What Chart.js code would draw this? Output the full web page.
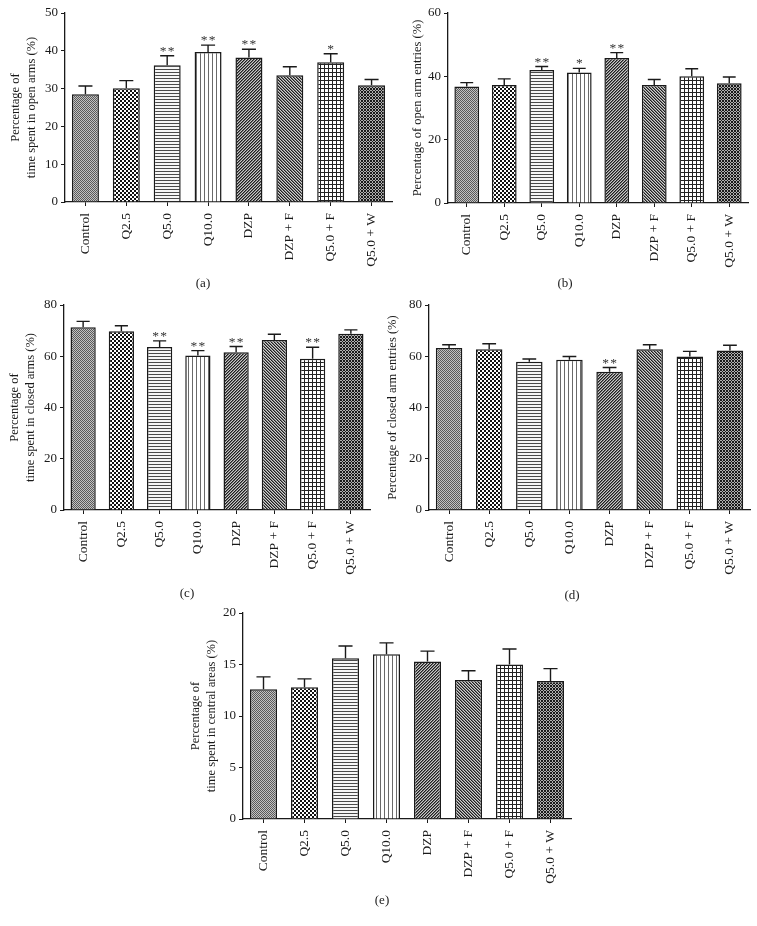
<!DOCTYPE html>
<html>
<head>
<meta charset="utf-8">
<script src="https://cdn.jsdelivr.net/npm/chart.js@4.4.0/dist/chart.umd.min.js"></script>
<style>
  html, body { margin: 0; padding: 0; background: #fff; }
  body { position: relative; width: 757px; height: 926px; overflow: hidden; }
  canvas { position: absolute; }
  .tag { position: absolute; font: 13px 'Liberation Serif', serif; color: #222; transform: translate(-50%, -50%); }
</style>
</head>
<body>
<canvas id="chart-a" width="400" height="280" style="left:0;top:0"></canvas>
<canvas id="chart-b" width="357" height="280" style="left:400px;top:0"></canvas>
<canvas id="chart-c" width="380" height="290" style="left:0;top:290px"></canvas>
<canvas id="chart-d" width="377" height="290" style="left:380px;top:290px"></canvas>
<canvas id="chart-e" width="420" height="300" style="left:180px;top:600px"></canvas>
<div class="tag" style="left:203px;top:283px">(a)</div>
<div class="tag" style="left:565px;top:283px">(b)</div>
<div class="tag" style="left:187px;top:593px">(c)</div>
<div class="tag" style="left:572px;top:595px">(d)</div>
<div class="tag" style="left:382px;top:900px">(e)</div>
<script>
// groups on the x axis, same for every panel
const groups = ['Control', 'Q2.5', 'Q5.0', 'Q10.0', 'DZP', 'DZP + F', 'Q5.0 + F', 'Q5.0 + W'];

// (a) time in open arms
const openTimeMean = [28.5, 30.1, 36.2, 39.7, 38.2, 33.5, 37.0, 30.9];
const openTimeSem  = [2.2, 2.0, 2.5, 1.8, 2.2, 2.3, 2.2, 1.5];
const openTimeSig  = ['', '', '**', '**', '**', '', '*', ''];

// (b) open arm entries
const openEntryMean = [36.8, 37.3, 42.0, 41.2, 45.8, 37.3, 40.0, 37.8];
const openEntrySem  = [1.2, 1.9, 1.1, 1.3, 1.7, 1.7, 2.4, 2.0];
const openEntrySig  = ['', '', '**', '*', '**', '', '', ''];

// (c) time in closed arms
const closedTimeMean = [71.3, 69.8, 63.6, 60.3, 61.6, 66.3, 59.0, 68.8];
const closedTimeSem  = [2.3, 2.1, 2.4, 1.9, 2.2, 2.3, 4.5, 1.5];
const closedTimeSig  = ['', '', '**', '**', '**', '', '**', ''];

// (d) closed arm entries
const closedEntryMean = [63.2, 62.7, 57.9, 58.6, 54.0, 62.7, 59.9, 62.2];
const closedEntrySem  = [1.3, 2.2, 1.0, 1.3, 1.6, 1.8, 2.0, 2.1];
const closedEntrySig  = ['', '', '', '', '**', '', '', ''];

// (e) time in central area
const centralMean = [12.6, 12.8, 15.6, 16.0, 15.3, 13.5, 15.0, 13.4];
const centralSem  = [1.2, 0.8, 1.2, 1.1, 1.0, 0.9, 1.5, 1.2];
const centralSig  = ['', '', '', '', '', '', '', ''];

const SERIF = "'Liberation Serif', 'Times New Roman', serif";
const INK = '#1a1a1a';

// fill pattern per group, in the same order as groups
const patternKinds = ['fine', 'checker', 'hlines', 'vlines', 'diagUp', 'diagDown', 'grid', 'weave'];

function pixelColor(kind, x, y) {
  switch (kind) {
    case 'fine': return (x + y) % 2 === 0 ? '#5a5a5a' : '#c2c2c2';
    case 'checker': return ((x >> 1) + (y >> 1)) % 2 === 0 ? '#111' : '#fff';
    case 'hlines': return y === 0 ? '#4a4a4a' : '#f6f6f6';
    case 'vlines': return x === 0 ? '#6a6a6a' : '#fff';
    case 'diagUp': return ['#1e1e1e', '#6e6e6e', '#c8c8c8'][(x + y) % 3];
    case 'diagDown': return ['#1e1e1e', '#777', '#d0d0d0'][(x - y + 3) % 3];
    case 'grid': return (x === 0 || y === 0) ? '#222' : '#fff';
    case 'weave': return ((x + y) % 3 === 0 || (x - y + 3) % 3 === 0) ? '#1a1a1a' : '#b0b0b0';
  }
  return '#888';
}

function makePattern(ctx, kind) {
  const size = { fine: 2, checker: 4, hlines: 3, vlines: 4, diagUp: 3, diagDown: 3, grid: 4, weave: 3 }[kind];
  const tile = document.createElement('canvas');
  tile.width = tile.height = size;
  const g = tile.getContext('2d');
  for (let y = 0; y < size; y++) {
    for (let x = 0; x < size; x++) {
      g.fillStyle = pixelColor(kind, x, y);
      g.fillRect(x, y, 1, 1);
    }
  }
  return ctx.createPattern(tile, 'repeat');
}

// error bars (upper SEM only) and significance stars
function errorBars(mean, sem, sig) {
  return {
    id: 'errorBars',
    afterDatasetsDraw(chart) {
      const { ctx, scales: { y } } = chart;
      const bars = chart.getDatasetMeta(0).data;
      ctx.save();
      ctx.strokeStyle = INK;
      ctx.lineWidth = 1.4;
      bars.forEach((bar, i) => {
        const top = y.getPixelForValue(mean[i] + sem[i]);
        const half = bar.width * 0.26;
        ctx.beginPath();
        ctx.moveTo(bar.x, bar.y);
        ctx.lineTo(bar.x, top);
        ctx.moveTo(bar.x - half, top);
        ctx.lineTo(bar.x + half, top);
        ctx.stroke();
        const stars = sig[i];
        if (stars) {
          ctx.fillStyle = '#333';
          ctx.font = '13.5px ' + SERIF;
          ctx.textAlign = 'center';
          ctx.textBaseline = 'alphabetic';
          const step = 8;
          const x0 = bar.x - (stars.length - 1) * step / 2;
          for (let k = 0; k < stars.length; k++) ctx.fillText('*', x0 + k * step, top - 1);
        }
      });
      ctx.restore();
    },
  };
}

const panels = [
  { id: 'chart-a', mean: openTimeMean, sem: openTimeSem, sig: openTimeSig, max: 50, step: 10,
    title: ['Percentage of', 'time spent in open arms (%)'], titlePad: 8,
    yWidth: 65, xHeight: 78, pad: { top: 13, right: 8 } },
  { id: 'chart-b', mean: openEntryMean, sem: openEntrySem, sig: openEntrySig, max: 60, step: 20,
    title: 'Percentage of open arm entries (%)', titlePad: 10,
    yWidth: 48, xHeight: 77, pad: { top: 13, right: 9 } },
  { id: 'chart-c', mean: closedTimeMean, sem: closedTimeSem, sig: closedTimeSig, max: 80, step: 20,
    title: ['Percentage of', 'time spent in closed arms (%)'], titlePad: 7,
    yWidth: 64, xHeight: 70, pad: { top: 15, right: 10 } },
  { id: 'chart-d', mean: closedEntryMean, sem: closedEntrySem, sig: closedEntrySig, max: 80, step: 20,
    title: 'Percentage of closed arm entries (%)', titlePad: 5,
    yWidth: 49, xHeight: 70, pad: { top: 15, right: 7 } },
  { id: 'chart-e', mean: centralMean, sem: centralSem, sig: centralSig, max: 20, step: 5,
    title: ['Percentage of', 'time spent in central areas (%)'], titlePad: 8,
    yWidth: 63, xHeight: 81, pad: { top: 13, right: 29 } },
];

panels.forEach(p => {
  const canvas = document.getElementById(p.id);
  const ctx = canvas.getContext('2d');
  new Chart(ctx, {
    type: 'bar',
    data: {
      labels: groups,
      datasets: [{
        data: p.mean,
        backgroundColor: patternKinds.map(k => makePattern(ctx, k)),
        borderColor: INK,
        borderWidth: 1.5,
        categoryPercentage: 1,
        barPercentage: 0.66,
      }],
    },
    options: {
      responsive: false,
      animation: false,
      layout: { padding: { left: 0, bottom: 0, top: p.pad.top, right: p.pad.right } },
      plugins: { legend: { display: false }, tooltip: { enabled: false } },
      scales: {
        x: {
          grid: { display: true, offset: false, drawOnChartArea: false, drawTicks: true, tickLength: 4, color: INK },
          border: { display: true, color: INK, width: 1.3 },
          ticks: {
            color: '#1a1a1a', font: { family: SERIF, size: 13.5 },
            autoSkip: false, maxRotation: 90, minRotation: 90, padding: 7,
          },
          afterFit: s => { s.height = p.xHeight; },
        },
        y: {
          min: 0, max: p.max,
          grid: { display: true, drawOnChartArea: false, drawTicks: true, tickLength: 4, color: INK },
          border: { display: true, color: INK, width: 1.3 },
          ticks: { stepSize: p.step, color: '#1a1a1a', font: { family: SERIF, size: 13 }, padding: 3 },
          title: {
            display: true, text: p.title, color: '#1a1a1a',
            font: { family: SERIF, size: 12.5, lineHeight: 1.24 },
            padding: { top: p.titlePad, bottom: 0 },
          },
          afterFit: s => { s.width = p.yWidth; },
        },
      },
    },
    plugins: [errorBars(p.mean, p.sem, p.sig)],
  });
});
</script>
</body>
</html>
